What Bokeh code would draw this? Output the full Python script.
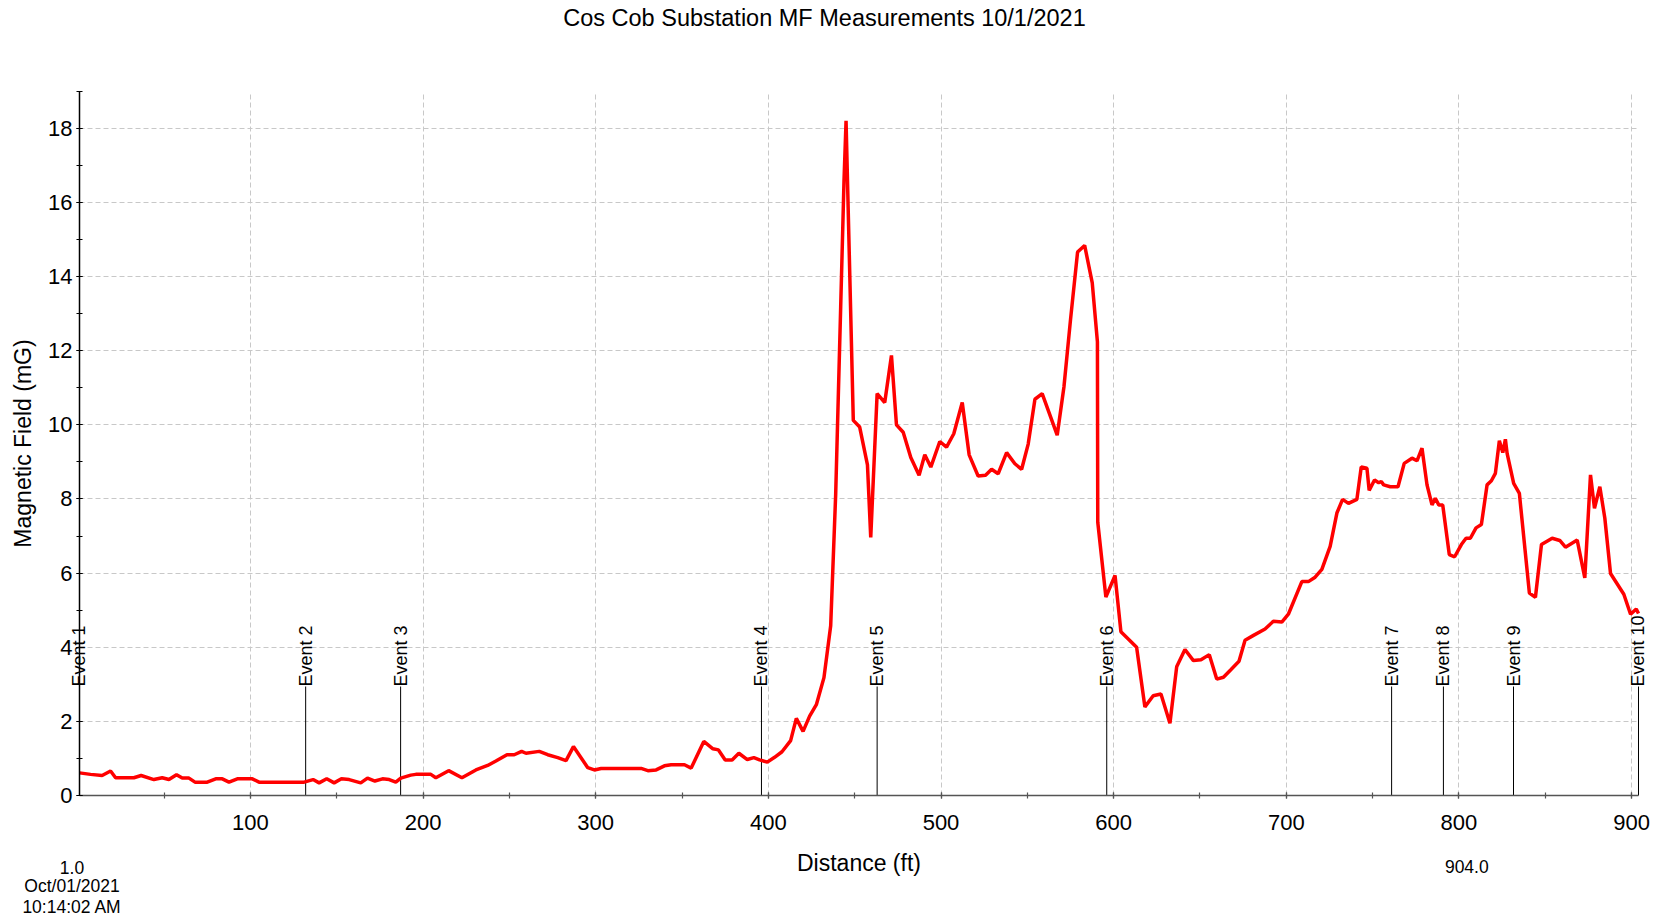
import math
from bokeh.plotting import figure
from bokeh.models import Range1d, SingleIntervalTicker, Label, LabelSet, ColumnDataSource
from bokeh.core.properties import value
from bokeh.embed import file_html
from bokeh.resources import INLINE

# ---------------- data ----------------
distance_ft = [
    1, 7.4, 14.1, 19, 21.9, 32.5, 36.7, 44.1, 48.9, 52.8, 57.2, 60.5, 64.4, 67.9, 75,
    79.9, 83.7, 87.6, 92.4, 101.1, 105, 131.1, 136.3, 139.8, 144.2, 148.5, 152.7, 157.2,
    163.9, 167.8, 172.1, 176.5, 180.4, 184.2, 187.1,
    192.9, 195.8, 204.5, 207.4, 214.8, 222.5, 230.6, 237.4, 242.2, 248.6, 252.8, 257.1,
    259.6, 267.3, 272.2, 278, 282.8, 287.1, 291.5, 295.4, 299.2, 303.1, 326.3, 330.2,
    335, 339.8, 343.7, 351.4, 355.3, 362.6, 367.9, 371.1, 375, 379, 382.9, 387.8, 391.6,
    394.9, 399.4,
    403.6, 407.9, 412.9, 416.2, 420.1, 423.9, 427.8, 432.2, 436.1, 439, 441.9, 443.8,
    445, 449.2, 452.9, 457.4, 459.3, 463, 467.4, 471.3, 474.2, 478.1, 482.5, 487.3,
    490.6, 494.1, 499.3, 503.2, 507.4, 512.3, 516.3, 521.5, 525.8, 529.3, 533.1, 538,
    542.8, 546.7, 550.5, 554.4, 558.6, 567.3, 571.2, 575, 579.1, 583.2, 587.6, 590.6,
    590.8, 595.5, 600.8, 604.2,
    613.3, 618.1, 622.9, 627.4, 632.6, 636.5, 641.3, 646.2, 650.6, 655.4, 659.7, 663.6,
    668, 672.6, 676.1, 681, 687.7, 692.5, 697.4, 701.2, 709, 712.8, 716.7, 720.6, 725.4,
    729.3, 732.6, 736, 740.9, 743.4, 746.7, 748, 751.1, 753.5, 755,
    756.4, 760.2, 764.7, 768.3, 772.8, 775.7, 778.6, 781.5, 784.4, 786.3, 788.3, 790.6,
    794.4, 797.5, 801.4, 804.1, 806.6, 809.9, 813, 816.3, 818.8, 821.1, 823.4, 825.4,
    826.9, 827.9, 831.7, 835, 840.8, 844.3, 847.8, 854, 858.4, 861.7, 868.5, 872.9,
    876.2, 878.5, 881.6, 884.5, 887.8, 895.5, 899.4, 902.7, 904,
]
field_mg = [
    0.61, 0.57, 0.54, 0.66, 0.48, 0.48, 0.54, 0.43, 0.48, 0.43, 0.56, 0.47, 0.47, 0.36, 0.36,
    0.45, 0.45, 0.36, 0.45, 0.45, 0.36, 0.36, 0.43, 0.34, 0.45, 0.34, 0.45, 0.43,
    0.34, 0.47, 0.39, 0.45, 0.43, 0.36, 0.47,
    0.55, 0.57, 0.57, 0.48, 0.67, 0.48, 0.69, 0.81, 0.93, 1.10, 1.10, 1.19,
    1.14, 1.19, 1.10, 1.02, 0.94, 1.32, 1.02, 0.75, 0.69, 0.73, 0.73, 0.67,
    0.69, 0.80, 0.83, 0.83, 0.74, 1.46, 1.26, 1.23, 0.96, 0.96, 1.14, 0.97, 1.02,
    0.96, 0.90,
    1.03, 1.18, 1.48, 2.08, 1.73, 2.14, 2.45, 3.18, 4.58, 8.13, 13.19, 16.56,
    18.2, 10.12, 9.94, 8.92, 6.96, 10.84, 10.6, 11.87, 10.0, 9.8, 9.12, 8.64,
    9.19, 8.86, 9.55, 9.4, 9.76, 10.6, 9.19, 8.62, 8.64, 8.8, 8.68, 9.25,
    8.95, 8.8, 9.48, 10.69, 10.84, 9.72, 11.02, 12.83, 14.66, 14.84, 13.83, 12.24,
    7.37, 5.35, 5.94, 4.42,
    4.0, 2.39, 2.69, 2.74, 1.95, 3.47, 3.94, 3.64, 3.66, 3.8, 3.14, 3.19,
    3.4, 3.62, 4.19, 4.32, 4.49, 4.7, 4.68, 4.89, 5.77, 5.77, 5.89, 6.1, 6.72,
    7.62, 7.99, 7.88, 7.99, 8.86, 8.83, 8.23, 8.51, 8.44, 8.47,
    8.38, 8.33, 8.33, 8.96, 9.1, 9.03, 9.37, 8.38, 7.84, 8.02, 7.84, 7.84,
    6.5, 6.44, 6.77, 6.94, 6.94, 7.22, 7.31, 8.38, 8.49, 8.69, 9.57, 9.25,
    9.61, 9.23, 8.42, 8.15, 5.46, 5.35, 6.77, 6.94, 6.88, 6.7, 6.89, 5.87,
    8.65, 7.75, 8.33, 7.48, 5.99, 5.43, 4.89, 5.03, 4.91,
]
event_names = ["Event 1", "Event 2", "Event 3", "Event 4", "Event 5",
               "Event 6", "Event 7", "Event 8", "Event 9", "Event 10"]
event_x = [1, 132, 187, 396, 463, 596, 761, 791, 831.6, 904]
event_height = 2.94

title_text = "Cos Cob Substation MF Measurements 10/1/2021"
x_label = "Distance (ft)"
y_label = "Magnetic Field (mG)"
start_text = ["1.0", "Oct/01/2021", "10:14:02 AM"]
end_text = "904.0"

X_MIN, X_MAX = 1, 904
Y_MIN, Y_MAX = 0, 19

FONT = "Liberation Sans"

# ---------------- geometry (pixels) ----------------
W, H = 1663, 919
PL, PR, PT, PB = 79, 1638, 90.7, 795   # visible plot box inside the canvas

xpp = (X_MAX - X_MIN) / (PR - PL)
ypp = (Y_MAX - Y_MIN) / (PB - PT)


def dx(px):
    return X_MIN + (px - PL) * xpp


def dy(py):
    return Y_MIN + (PB - py) * ypp


p = figure(width=W, height=H, output_backend="svg", toolbar_location=None,
           x_range=Range1d(dx(0), dx(W)), y_range=Range1d(dy(H), dy(0)),
           min_border=0)
p.background_fill_color = "white"
p.border_fill_color = "white"
p.outline_line_color = None

# axes drawn at the plot box edges
p.xaxis.fixed_location = Y_MIN
p.yaxis.fixed_location = X_MIN
p.xaxis.bounds = (X_MIN, X_MAX)
p.yaxis.bounds = (Y_MIN, Y_MAX)
p.xaxis.ticker = SingleIntervalTicker(interval=100, num_minor_ticks=2)
p.yaxis.ticker = SingleIntervalTicker(interval=2, num_minor_ticks=2)
for ax in (p.xaxis[0], p.yaxis[0]):
    ax.major_label_text_font = FONT
    ax.major_label_text_font_size = "22px"
    ax.major_label_text_color = "black"
    ax.axis_label_text_font = FONT
    ax.axis_label_text_font_size = "23px"
    ax.axis_label_text_font_style = "normal"
    ax.axis_label_text_color = "black"
    ax.major_tick_in = 3
    ax.major_tick_out = 3
    ax.minor_tick_in = 3
    ax.minor_tick_out = 3
    ax.axis_line_width = 1.5
    ax.major_tick_line_width = 1.2
    ax.minor_tick_line_width = 1.2
p.xaxis.axis_label = x_label
p.yaxis.axis_label = y_label
p.xaxis.axis_line_color = "#555555"
p.xaxis.major_tick_line_color = "#555555"
p.xaxis.minor_tick_line_color = "#555555"
p.yaxis.axis_line_color = "black"
p.yaxis.major_tick_line_color = "black"
p.yaxis.minor_tick_line_color = "black"
p.xaxis.major_label_standoff = 16
p.xaxis.axis_label_standoff = 17
p.yaxis.major_label_standoff = 4
p.yaxis.axis_label_standoff = 9

# grid limited to the plot box
p.xgrid.bounds = (X_MIN, X_MAX)
p.ygrid.bounds = (Y_MIN, Y_MAX)
p.xgrid.cross_bounds = (Y_MIN, Y_MAX)
p.ygrid.cross_bounds = (X_MIN, X_MAX)
for g in (p.xgrid[0], p.ygrid[0]):
    g.grid_line_color = "#c8c8c8"
    g.grid_line_dash = "5 3"
    g.grid_line_width = 1

# event markers
p.segment(x0=event_x, y0=[Y_MIN] * len(event_x), x1=event_x, y1=[event_height] * len(event_x),
          line_color="black", line_width=1)
ev_src = ColumnDataSource(dict(x=event_x, y=[event_height] * len(event_x), t=event_names))
p.add_layout(LabelSet(x="x", y="y", text="t", source=ev_src, angle=math.pi / 2,
                      text_align="left", text_baseline="middle",
                      text_font=value(FONT), text_font_size="18px", text_color="black"))

# data line
p.line(distance_ft, field_mg, line_color="#ff0000", line_width=3.5)

# title and side texts
p.add_layout(Label(x=dx(824), y=dy(17.6), text=title_text, text_align="center",
                   text_baseline="alphabetic", text_font=FONT, text_font_size="23.5px",
                   text_color="black"))
for txt, py in zip(start_text, [866.9, 885.9, 906.9]):
    p.add_layout(Label(x=dx(71.5), y=dy(py), text=txt, text_align="center",
                       text_baseline="alphabetic", text_font=FONT, text_font_size="17.5px",
                       text_color="black"))
p.add_layout(Label(x=dx(1466.3), y=dy(866.3), text=end_text, text_align="center",
                   text_baseline="alphabetic", text_font=FONT, text_font_size="17.5px",
                   text_color="black"))

open("out.html", "w").write(file_html(p, INLINE))
